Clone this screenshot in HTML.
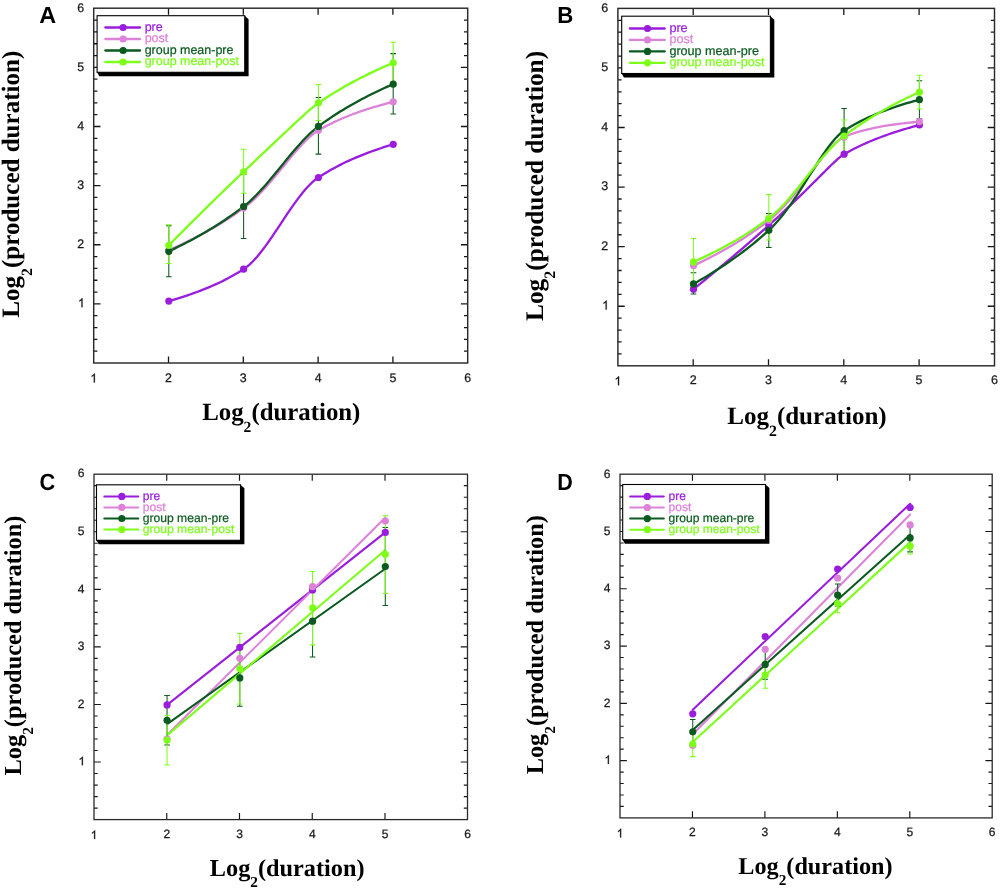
<!DOCTYPE html>
<html><head><meta charset="utf-8"><title>Figure</title>
<style>
html,body{margin:0;padding:0;background:#fff;}
body{width:1000px;height:890px;overflow:hidden;font-family:"Liberation Sans",sans-serif;}
svg{display:block;will-change:transform;text-rendering:geometricPrecision;}
</style></head><body>
<svg width="1000" height="890" viewBox="0 0 1000 890">
<rect width="1000" height="890" fill="#fff"/>
<g>
<path d="M93.7 351.18h3.7M467.7 351.18h-3.7M93.7 339.35h3.7M467.7 339.35h-3.7M93.7 327.53h3.7M467.7 327.53h-3.7M93.7 315.7h3.7M467.7 315.7h-3.7M93.7 303.88h6.8M467.7 303.88h-6.8M93.7 292.06h3.7M467.7 292.06h-3.7M93.7 280.23h3.7M467.7 280.23h-3.7M93.7 268.41h3.7M467.7 268.41h-3.7M93.7 256.58h3.7M467.7 256.58h-3.7M93.7 244.76h6.8M467.7 244.76h-6.8M93.7 232.94h3.7M467.7 232.94h-3.7M93.7 221.11h3.7M467.7 221.11h-3.7M93.7 209.29h3.7M467.7 209.29h-3.7M93.7 197.46h3.7M467.7 197.46h-3.7M93.7 185.64h6.8M467.7 185.64h-6.8M93.7 173.82h3.7M467.7 173.82h-3.7M93.7 161.99h3.7M467.7 161.99h-3.7M93.7 150.17h3.7M467.7 150.17h-3.7M93.7 138.34h3.7M467.7 138.34h-3.7M93.7 126.52h6.8M467.7 126.52h-6.8M93.7 114.7h3.7M467.7 114.7h-3.7M93.7 102.87h3.7M467.7 102.87h-3.7M93.7 91.05h3.7M467.7 91.05h-3.7M93.7 79.22h3.7M467.7 79.22h-3.7M93.7 67.4h6.8M467.7 67.4h-6.8M93.7 55.58h3.7M467.7 55.58h-3.7M93.7 43.75h3.7M467.7 43.75h-3.7M93.7 31.93h3.7M467.7 31.93h-3.7M93.7 20.1h3.7M467.7 20.1h-3.7M168.5 363v-6.6M168.5 8.2v6.6M243.3 363v-6.6M243.3 8.2v6.6M318.1 363v-6.6M318.1 8.2v6.6M392.9 363v-6.6M392.9 8.2v6.6" stroke="#161616" stroke-width="1.3" fill="none"/>
<rect x="93.7" y="8.2" width="374" height="354.8" fill="none" stroke="#2a2a2a" stroke-width="1.45"/>
<g font-family="Liberation Sans, sans-serif" font-size="12.4" fill="#1a1a1a" stroke="#1a1a1a" stroke-width="0.25">
<path aria-label="1" transform="translate(77.91 307.18) scale(0.00605 -0.00605)" d="M763 0H583V1147Q518 1085 412.5 1023T223 930V1104Q373 1174.5 485 1274.5T644 1469H763Z" fill="#1a1a1a" stroke="#1a1a1a" stroke-width="42"/>
<text x="84.1" y="248.06" text-anchor="end">2</text>
<text x="84.1" y="188.94" text-anchor="end">3</text>
<text x="84.1" y="129.82" text-anchor="end">4</text>
<text x="84.1" y="70.7" text-anchor="end">5</text>
<text x="84.1" y="11.58" text-anchor="end">6</text>
<path aria-label="1" transform="translate(90.25 382.5) scale(0.00605 -0.00605)" d="M763 0H583V1147Q518 1085 412.5 1023T223 930V1104Q373 1174.5 485 1274.5T644 1469H763Z" fill="#1a1a1a" stroke="#1a1a1a" stroke-width="42"/>
<text x="168.5" y="381.8" text-anchor="middle">2</text>
<text x="243.3" y="381.8" text-anchor="middle">3</text>
<text x="318.1" y="381.8" text-anchor="middle">4</text>
<text x="392.9" y="381.8" text-anchor="middle">5</text>
<text x="467.7" y="381.8" text-anchor="middle">6</text>
</g>
<path d="M168.8 301.1L171.92 300.21L175.03 299.29L178.15 298.35L181.27 297.38L184.38 296.38L187.5 295.34L190.62 294.28L193.73 293.18L196.85 292.04L199.97 290.87L203.08 289.66L206.2 288.41L209.32 287.11L212.43 285.77L215.55 284.38L218.67 282.94L221.78 281.44L224.9 279.89L228.02 278.28L231.13 276.6L234.25 274.86L237.37 273.04L240.48 271.15L243.6 269.18L246.72 266.94L249.83 264.29L252.95 261.26L256.07 257.89L259.18 254.22L262.3 250.29L265.42 246.13L268.53 241.79L271.65 237.31L274.77 232.71L277.88 228.04L281 223.33L284.12 218.62L287.23 213.96L290.35 209.37L293.47 204.89L296.58 200.56L299.7 196.42L302.82 192.5L305.93 188.84L309.05 185.47L312.17 182.43L315.28 179.75L318.4 177.48L321.52 175.46L324.63 173.52L327.75 171.66L330.87 169.86L333.98 168.13L337.1 166.47L340.22 164.86L343.33 163.31L346.45 161.82L349.57 160.37L352.68 158.98L355.8 157.63L358.92 156.32L362.03 155.06L365.15 153.83L368.27 152.64L371.38 151.49L374.5 150.37L377.62 149.29L380.73 148.24L383.85 147.21L386.97 146.22L390.08 145.25L393.2 144.32" stroke="#9a1cdc" stroke-width="2.3" fill="none" stroke-linecap="round"/>
<path d="M168.8 250.08L171.92 248.73L175.03 247.34L178.15 245.93L181.27 244.49L184.38 243.03L187.5 241.53L190.62 240L193.73 238.44L196.85 236.84L199.97 235.22L203.08 233.55L206.2 231.85L209.32 230.11L212.43 228.34L215.55 226.52L218.67 224.66L221.78 222.76L224.9 220.81L228.02 218.82L231.13 216.78L234.25 214.69L237.37 212.55L240.48 210.36L243.6 208.11L246.72 205.72L249.83 203.14L252.95 200.36L256.07 197.4L259.18 194.29L262.3 191.02L265.42 187.62L268.53 184.1L271.65 180.49L274.77 176.79L277.88 173.03L281 169.23L284.12 165.42L287.23 161.61L290.35 157.83L293.47 154.11L296.58 150.47L299.7 146.95L302.82 143.59L305.93 140.41L309.05 137.45L312.17 134.76L315.28 132.38L318.4 130.36L321.52 128.58L324.63 126.87L327.75 125.23L330.87 123.66L333.98 122.15L337.1 120.71L340.22 119.32L343.33 117.98L346.45 116.69L349.57 115.45L352.68 114.25L355.8 113.1L358.92 111.98L362.03 110.91L365.15 109.87L368.27 108.86L371.38 107.89L374.5 106.94L377.62 106.03L380.73 105.15L383.85 104.29L386.97 103.46L390.08 102.65L393.2 101.87" stroke="#dc82d8" stroke-width="2.3" fill="none" stroke-linecap="round"/>
<path d="M168.8 251.32L171.92 249.85L175.03 248.35L178.15 246.83L181.27 245.27L184.38 243.69L187.5 242.07L190.62 240.42L193.73 238.74L196.85 237.03L199.97 235.28L203.08 233.5L206.2 231.68L209.32 229.82L212.43 227.92L215.55 225.99L218.67 224.01L221.78 221.99L224.9 219.92L228.02 217.81L231.13 215.65L234.25 213.44L237.37 211.18L240.48 208.87L243.6 206.51L246.72 204.01L249.83 201.29L252.95 198.38L256.07 195.29L259.18 192.04L262.3 188.65L265.42 185.15L268.53 181.53L271.65 177.84L274.77 174.08L277.88 170.28L281 166.46L284.12 162.63L287.23 158.82L290.35 155.04L293.47 151.33L296.58 147.69L299.7 144.16L302.82 140.76L305.93 137.5L309.05 134.41L312.17 131.52L315.28 128.84L318.4 126.4L321.52 124.12L324.63 121.9L327.75 119.73L330.87 117.62L333.98 115.56L337.1 113.55L340.22 111.58L343.33 109.66L346.45 107.79L349.57 105.96L352.68 104.17L355.8 102.42L358.92 100.71L362.03 99.04L365.15 97.4L368.27 95.8L371.38 94.23L374.5 92.7L377.62 91.2L380.73 89.73L383.85 88.28L386.97 86.87L390.08 85.49L393.2 84.13" stroke="#0b5a1f" stroke-width="2.3" fill="none" stroke-linecap="round"/>
<path d="M168.8 245.35L171.92 242.18L175.03 239.03L178.15 235.88L181.27 232.74L184.38 229.61L187.5 226.48L190.62 223.37L193.73 220.26L196.85 217.17L199.97 214.08L203.08 211L206.2 207.93L209.32 204.86L212.43 201.81L215.55 198.76L218.67 195.73L221.78 192.7L224.9 189.68L228.02 186.67L231.13 183.67L234.25 180.68L237.37 177.69L240.48 174.71L243.6 171.75L246.72 168.78L249.83 165.82L252.95 162.86L256.07 159.9L259.18 156.95L262.3 153.99L265.42 151.04L268.53 148.09L271.65 145.14L274.77 142.2L277.88 139.26L281 136.32L284.12 133.39L287.23 130.47L290.35 127.56L293.47 124.65L296.58 121.76L299.7 118.89L302.82 116.05L305.93 113.24L309.05 110.48L312.17 107.8L315.28 105.25L318.4 102.93L321.52 100.83L324.63 98.77L327.75 96.76L330.87 94.79L333.98 92.87L337.1 90.98L340.22 89.14L343.33 87.33L346.45 85.56L349.57 83.83L352.68 82.13L355.8 80.47L358.92 78.84L362.03 77.25L365.15 75.68L368.27 74.14L371.38 72.64L374.5 71.16L377.62 69.71L380.73 68.29L383.85 66.89L386.97 65.52L390.08 64.17L393.2 62.85" stroke="#7dff1a" stroke-width="2.3" fill="none" stroke-linecap="round"/>
<path d="M168.8 225.84V276.68M166 225.84h5.6M166 276.68h5.6M243.6 174.41V238.49M240.8 174.41h5.6M240.8 238.49h5.6M318.4 97.55V154.13M315.6 97.55h5.6M315.6 154.13h5.6M393.2 53.63V114.05M390.4 53.63h5.6M390.4 114.05h5.6" stroke="#0b5a1f" stroke-width="1.05" fill="none"/>
<path d="M168.8 224.66V263.44M166 224.66h5.6M166 263.44h5.6M243.6 149.28V193.33M240.8 149.28h5.6M240.8 193.33h5.6M318.4 84.54V120.43M315.6 84.54h5.6M315.6 120.43h5.6M393.2 42.33V83.36M390.4 42.33h5.6M390.4 83.36h5.6" stroke="#7dff1a" stroke-width="1.05" fill="none"/>
<circle cx="168.8" cy="301.1" r="3.6" fill="#9a1cdc"/>
<circle cx="243.6" cy="269.18" r="3.6" fill="#9a1cdc"/>
<circle cx="318.4" cy="177.48" r="3.6" fill="#9a1cdc"/>
<circle cx="393.2" cy="144.32" r="3.6" fill="#9a1cdc"/>
<circle cx="168.8" cy="250.08" r="3.6" fill="#dc82d8"/>
<circle cx="243.6" cy="208.11" r="3.6" fill="#dc82d8"/>
<circle cx="318.4" cy="130.36" r="3.6" fill="#dc82d8"/>
<circle cx="393.2" cy="101.87" r="3.6" fill="#dc82d8"/>
<circle cx="168.8" cy="251.32" r="3.6" fill="#0b5a1f"/>
<circle cx="243.6" cy="206.51" r="3.6" fill="#0b5a1f"/>
<circle cx="318.4" cy="126.4" r="3.6" fill="#0b5a1f"/>
<circle cx="393.2" cy="84.13" r="3.6" fill="#0b5a1f"/>
<circle cx="168.8" cy="245.35" r="3.6" fill="#7dff1a"/>
<circle cx="243.6" cy="171.75" r="3.6" fill="#7dff1a"/>
<circle cx="318.4" cy="102.93" r="3.6" fill="#7dff1a"/>
<circle cx="393.2" cy="62.85" r="3.6" fill="#7dff1a"/>
<path d="M244.7 15.7L248.6 19.21V76.2H99.3L96.8 71.8H244.7Z" fill="#000"/>
<rect x="97.1" y="15.7" width="147.6" height="56.6" fill="#fff" stroke="#000" stroke-width="1.1"/>
<g font-family="Liberation Sans, sans-serif" font-size="12.47">
<path d="M105.35 27.5h34.7" stroke="#9a1cdc" stroke-width="2.3" stroke-linecap="round"/>
<circle cx="123.1" cy="27.5" r="3.6" fill="#9a1cdc"/>
<text x="144.7" y="30.6" fill="#9a1cdc" stroke="#9a1cdc" stroke-width="0.22">pre</text>
<path d="M105.35 39h34.7" stroke="#dc82d8" stroke-width="2.3" stroke-linecap="round"/>
<circle cx="123.1" cy="39" r="3.6" fill="#dc82d8"/>
<text x="144.7" y="42.1" fill="#dc82d8" stroke="#dc82d8" stroke-width="0.22">post</text>
<path d="M105.35 50.5h34.7" stroke="#0b5a1f" stroke-width="2.3" stroke-linecap="round"/>
<circle cx="123.1" cy="50.5" r="3.6" fill="#0b5a1f"/>
<text x="144.7" y="53.6" fill="#0b5a1f" stroke="#0b5a1f" stroke-width="0.22">group mean-pre</text>
<path d="M105.35 62h34.7" stroke="#7dff1a" stroke-width="2.3" stroke-linecap="round"/>
<circle cx="123.1" cy="62" r="3.6" fill="#7dff1a"/>
<text x="144.7" y="65.1" fill="#7dff1a" stroke="#7dff1a" stroke-width="0.22">group mean-post</text>
</g>
<text transform="translate(39.3 23.2) scale(1 1)" font-family="Liberation Sans, sans-serif" font-weight="bold" font-size="23.4" fill="#000">A</text>
<text x="281.3" y="420" text-anchor="middle" font-family="Liberation Serif, serif" font-weight="bold" font-size="24.83" fill="#000">Log<tspan font-size="15.59" dy="12.17">2</tspan><tspan dy="-12.17">(duration)</tspan></text>
<text transform="translate(19.3 184.2) rotate(-90)" text-anchor="middle" font-family="Liberation Serif, serif" font-weight="bold" font-size="25.05" fill="#000">Log<tspan font-size="15.73" dy="12.27">2</tspan><tspan dy="-12.27">(produced duration)</tspan></text>
</g>
<g>
<path d="M617.9 353.89h3.7M994.5 353.89h-3.7M617.9 341.97h3.7M994.5 341.97h-3.7M617.9 330.06h3.7M994.5 330.06h-3.7M617.9 318.14h3.7M994.5 318.14h-3.7M617.9 306.23h6.8M994.5 306.23h-6.8M617.9 294.32h3.7M994.5 294.32h-3.7M617.9 282.4h3.7M994.5 282.4h-3.7M617.9 270.49h3.7M994.5 270.49h-3.7M617.9 258.57h3.7M994.5 258.57h-3.7M617.9 246.66h6.8M994.5 246.66h-6.8M617.9 234.75h3.7M994.5 234.75h-3.7M617.9 222.83h3.7M994.5 222.83h-3.7M617.9 210.92h3.7M994.5 210.92h-3.7M617.9 199h3.7M994.5 199h-3.7M617.9 187.09h6.8M994.5 187.09h-6.8M617.9 175.18h3.7M994.5 175.18h-3.7M617.9 163.26h3.7M994.5 163.26h-3.7M617.9 151.35h3.7M994.5 151.35h-3.7M617.9 139.43h3.7M994.5 139.43h-3.7M617.9 127.52h6.8M994.5 127.52h-6.8M617.9 115.61h3.7M994.5 115.61h-3.7M617.9 103.69h3.7M994.5 103.69h-3.7M617.9 91.78h3.7M994.5 91.78h-3.7M617.9 79.86h3.7M994.5 79.86h-3.7M617.9 67.95h6.8M994.5 67.95h-6.8M617.9 56.04h3.7M994.5 56.04h-3.7M617.9 44.12h3.7M994.5 44.12h-3.7M617.9 32.21h3.7M994.5 32.21h-3.7M617.9 20.29h3.7M994.5 20.29h-3.7M693.2 365.8v-6.6M693.2 8.4v6.6M768.5 365.8v-6.6M768.5 8.4v6.6M843.8 365.8v-6.6M843.8 8.4v6.6M919.1 365.8v-6.6M919.1 8.4v6.6" stroke="#161616" stroke-width="1.3" fill="none"/>
<rect x="617.9" y="8.4" width="376.6" height="357.4" fill="none" stroke="#2a2a2a" stroke-width="1.45"/>
<g font-family="Liberation Sans, sans-serif" font-size="12.5" fill="#1a1a1a" stroke="#1a1a1a" stroke-width="0.25">
<path aria-label="1" transform="translate(602.05 309.53) scale(0.00610 -0.00610)" d="M763 0H583V1147Q518 1085 412.5 1023T223 930V1104Q373 1174.5 485 1274.5T644 1469H763Z" fill="#1a1a1a" stroke="#1a1a1a" stroke-width="42"/>
<text x="608.3" y="249.96" text-anchor="end">2</text>
<text x="608.3" y="190.39" text-anchor="end">3</text>
<text x="608.3" y="130.82" text-anchor="end">4</text>
<text x="608.3" y="71.25" text-anchor="end">5</text>
<text x="608.3" y="11.68" text-anchor="end">6</text>
<path aria-label="1" transform="translate(614.42 385.3) scale(0.00610 -0.00610)" d="M763 0H583V1147Q518 1085 412.5 1023T223 930V1104Q373 1174.5 485 1274.5T644 1469H763Z" fill="#1a1a1a" stroke="#1a1a1a" stroke-width="42"/>
<text x="693.2" y="384.2" text-anchor="middle">2</text>
<text x="768.5" y="384.2" text-anchor="middle">3</text>
<text x="843.8" y="384.2" text-anchor="middle">4</text>
<text x="919.1" y="384.2" text-anchor="middle">5</text>
<text x="994.5" y="384.2" text-anchor="middle">6</text>
</g>
<path d="M693.5 289.19L696.64 286.66L699.77 284.11L702.91 281.55L706.05 278.99L709.19 276.41L712.32 273.82L715.46 271.22L718.6 268.61L721.74 265.99L724.87 263.35L728.01 260.71L731.15 258.05L734.29 255.39L737.42 252.71L740.56 250.02L743.7 247.31L746.84 244.6L749.97 241.88L753.11 239.14L756.25 236.39L759.39 233.63L762.52 230.86L765.66 228.07L768.8 225.27L771.94 222.46L775.07 219.61L778.21 216.74L781.35 213.84L784.49 210.91L787.62 207.96L790.76 204.98L793.9 201.98L797.04 198.95L800.17 195.9L803.31 192.83L806.45 189.74L809.59 186.63L812.72 183.51L815.86 180.38L819 177.24L822.14 174.1L825.27 170.97L828.41 167.86L831.55 164.8L834.69 161.82L837.82 158.97L840.96 156.37L844.1 154.21L847.24 152.44L850.37 150.73L853.51 149.1L856.65 147.52L859.79 146L862.92 144.54L866.06 143.13L869.2 141.77L872.34 140.45L875.47 139.18L878.61 137.95L881.75 136.76L884.89 135.61L888.02 134.5L891.16 133.42L894.3 132.37L897.44 131.35L900.57 130.37L903.71 129.41L906.85 128.48L909.99 127.58L913.12 126.7L916.26 125.85L919.4 125.02" stroke="#9a1cdc" stroke-width="2.3" fill="none" stroke-linecap="round"/>
<path d="M693.5 265.6L696.64 264.14L699.77 262.64L702.91 261.11L706.05 259.56L709.19 257.97L712.32 256.35L715.46 254.7L718.6 253.02L721.74 251.3L724.87 249.54L728.01 247.75L731.15 245.92L734.29 244.05L737.42 242.14L740.56 240.19L743.7 238.19L746.84 236.15L749.97 234.06L753.11 231.92L756.25 229.73L759.39 227.49L762.52 225.2L765.66 222.85L768.8 220.45L771.94 217.91L775.07 215.16L778.21 212.21L781.35 209.07L784.49 205.76L787.62 202.27L790.76 198.64L793.9 194.87L797.04 190.98L800.17 186.98L803.31 182.9L806.45 178.75L809.59 174.57L812.72 170.37L815.86 166.2L819 162.08L822.14 158.05L825.27 154.15L828.41 150.45L831.55 146.99L834.69 143.83L837.82 141.07L840.96 138.77L844.1 137.05L847.24 135.72L850.37 134.51L853.51 133.4L856.65 132.39L859.79 131.45L862.92 130.58L866.06 129.78L869.2 129.03L872.34 128.33L875.47 127.68L878.61 127.07L881.75 126.49L884.89 125.95L888.02 125.45L891.16 124.97L894.3 124.51L897.44 124.09L900.57 123.68L903.71 123.29L906.85 122.93L909.99 122.58L913.12 122.24L916.26 121.93L919.4 121.62" stroke="#dc82d8" stroke-width="2.3" fill="none" stroke-linecap="round"/>
<path d="M693.5 283.89L696.64 282.13L699.77 280.33L702.91 278.51L706.05 276.64L709.19 274.75L712.32 272.81L715.46 270.84L718.6 268.83L721.74 266.78L724.87 264.69L728.01 262.56L731.15 260.38L734.29 258.16L737.42 255.89L740.56 253.58L743.7 251.22L746.84 248.8L749.97 246.33L753.11 243.81L756.25 241.24L759.39 238.6L762.52 235.91L765.66 233.16L768.8 230.34L771.94 227.35L775.07 224.09L778.21 220.57L781.35 216.82L784.49 212.84L787.62 208.66L790.76 204.3L793.9 199.77L797.04 195.09L800.17 190.3L803.31 185.42L806.45 180.48L809.59 175.5L812.72 170.52L815.86 165.58L819 160.72L822.14 155.97L825.27 151.39L828.41 147.02L831.55 142.93L834.69 139.17L837.82 135.81L840.96 132.93L844.1 130.62L847.24 128.66L850.37 126.78L853.51 124.99L856.65 123.28L859.79 121.63L862.92 120.05L866.06 118.54L869.2 117.08L872.34 115.69L875.47 114.34L878.61 113.04L881.75 111.79L884.89 110.59L888.02 109.42L891.16 108.3L894.3 107.22L897.44 106.17L900.57 105.15L903.71 104.17L906.85 103.22L909.99 102.3L913.12 101.41L916.26 100.54L919.4 99.7" stroke="#0b5a1f" stroke-width="2.3" fill="none" stroke-linecap="round"/>
<path d="M693.5 261.91L696.64 260.51L699.77 259.09L702.91 257.63L706.05 256.15L709.19 254.63L712.32 253.08L715.46 251.5L718.6 249.89L721.74 248.24L724.87 246.56L728.01 244.83L731.15 243.07L734.29 241.27L737.42 239.43L740.56 237.55L743.7 235.62L746.84 233.65L749.97 231.63L753.11 229.56L756.25 227.44L759.39 225.27L762.52 223.05L765.66 220.77L768.8 218.42L771.94 215.92L775.07 213.18L778.21 210.21L781.35 207.04L784.49 203.7L787.62 200.2L790.76 196.57L793.9 192.83L797.04 189L800.17 185.1L803.31 181.16L806.45 177.2L809.59 173.24L812.72 169.3L815.86 165.41L819 161.58L822.14 157.84L825.27 154.22L828.41 150.72L831.55 147.38L834.69 144.21L837.82 141.24L840.96 138.49L844.1 135.98L847.24 133.63L850.37 131.33L853.51 129.09L856.65 126.91L859.79 124.77L862.92 122.69L866.06 120.66L869.2 118.67L872.34 116.73L875.47 114.83L878.61 112.98L881.75 111.16L884.89 109.38L888.02 107.65L891.16 105.95L894.3 104.28L897.44 102.65L900.57 101.06L903.71 99.5L906.85 97.96L909.99 96.46L913.12 94.99L916.26 93.55L919.4 92.14" stroke="#7dff1a" stroke-width="2.3" fill="none" stroke-linecap="round"/>
<path d="M693.5 272.81V293.9M690.7 272.81h5.6M690.7 293.9h5.6M768.8 213.48V247.49M766 213.48h5.6M766 247.49h5.6M844.1 108.52V152.72M841.3 108.52h5.6M841.3 152.72h5.6M919.4 80.7V118.7M916.6 80.7h5.6M916.6 118.7h5.6" stroke="#0b5a1f" stroke-width="1.05" fill="none"/>
<path d="M693.5 238.44V285.38M690.7 238.44h5.6M690.7 285.38h5.6M768.8 194.6V239.93M766 194.6h5.6M766 239.93h5.6M844.1 119.95V152.54M841.3 119.95h5.6M841.3 152.54h5.6M919.4 75.28V109.05M916.6 75.28h5.6M916.6 109.05h5.6" stroke="#7dff1a" stroke-width="1.05" fill="none"/>
<circle cx="693.5" cy="289.19" r="3.6" fill="#9a1cdc"/>
<circle cx="768.8" cy="225.27" r="3.6" fill="#9a1cdc"/>
<circle cx="844.1" cy="154.21" r="3.6" fill="#9a1cdc"/>
<circle cx="919.4" cy="125.02" r="3.6" fill="#9a1cdc"/>
<circle cx="693.5" cy="265.6" r="3.6" fill="#dc82d8"/>
<circle cx="768.8" cy="220.45" r="3.6" fill="#dc82d8"/>
<circle cx="844.1" cy="137.05" r="3.6" fill="#dc82d8"/>
<circle cx="919.4" cy="121.62" r="3.6" fill="#dc82d8"/>
<circle cx="693.5" cy="283.89" r="3.6" fill="#0b5a1f"/>
<circle cx="768.8" cy="230.34" r="3.6" fill="#0b5a1f"/>
<circle cx="844.1" cy="130.62" r="3.6" fill="#0b5a1f"/>
<circle cx="919.4" cy="99.7" r="3.6" fill="#0b5a1f"/>
<circle cx="693.5" cy="261.91" r="3.6" fill="#7dff1a"/>
<circle cx="768.8" cy="218.42" r="3.6" fill="#7dff1a"/>
<circle cx="844.1" cy="135.98" r="3.6" fill="#7dff1a"/>
<circle cx="919.4" cy="92.14" r="3.6" fill="#7dff1a"/>
<path d="M770.4 16.2L774.3 19.71V77.4H623.9L621.4 73H770.4Z" fill="#000"/>
<rect x="621.7" y="16.2" width="148.7" height="57.3" fill="#fff" stroke="#000" stroke-width="1.1"/>
<g font-family="Liberation Sans, sans-serif" font-size="12.6">
<path d="M629.85 28.5h34.9" stroke="#9a1cdc" stroke-width="2.3" stroke-linecap="round"/>
<circle cx="647.5" cy="28.5" r="3.6" fill="#9a1cdc"/>
<text x="669.4" y="31.6" fill="#9a1cdc" stroke="#9a1cdc" stroke-width="0.22">pre</text>
<path d="M629.85 39.95h34.9" stroke="#dc82d8" stroke-width="2.3" stroke-linecap="round"/>
<circle cx="647.5" cy="39.95" r="3.6" fill="#dc82d8"/>
<text x="669.4" y="43.05" fill="#dc82d8" stroke="#dc82d8" stroke-width="0.22">post</text>
<path d="M629.85 51.4h34.9" stroke="#0b5a1f" stroke-width="2.3" stroke-linecap="round"/>
<circle cx="647.5" cy="51.4" r="3.6" fill="#0b5a1f"/>
<text x="669.4" y="54.5" fill="#0b5a1f" stroke="#0b5a1f" stroke-width="0.22">group mean-pre</text>
<path d="M629.85 62.85h34.9" stroke="#7dff1a" stroke-width="2.3" stroke-linecap="round"/>
<circle cx="647.5" cy="62.85" r="3.6" fill="#7dff1a"/>
<text x="669.4" y="65.95" fill="#7dff1a" stroke="#7dff1a" stroke-width="0.22">group mean-post</text>
</g>
<text transform="translate(557.3 22.9) scale(0.95 1)" font-family="Liberation Sans, sans-serif" font-weight="bold" font-size="23.4" fill="#000">B</text>
<text x="807" y="423.8" text-anchor="middle" font-family="Liberation Serif, serif" font-weight="bold" font-size="25.03" fill="#000">Log<tspan font-size="15.72" dy="12.26">2</tspan><tspan dy="-12.26">(duration)</tspan></text>
<text transform="translate(543 185.9) rotate(-90)" text-anchor="middle" font-family="Liberation Serif, serif" font-weight="bold" font-size="25.35" fill="#000">Log<tspan font-size="15.92" dy="12.42">2</tspan><tspan dy="-12.42">(produced duration)</tspan></text>
</g>
<g>
<path d="M94 808.09h3.7M467.5 808.09h-3.7M94 796.57h3.7M467.5 796.57h-3.7M94 785.06h3.7M467.5 785.06h-3.7M94 773.54h3.7M467.5 773.54h-3.7M94 762.03h6.8M467.5 762.03h-6.8M94 750.52h3.7M467.5 750.52h-3.7M94 739h3.7M467.5 739h-3.7M94 727.49h3.7M467.5 727.49h-3.7M94 715.97h3.7M467.5 715.97h-3.7M94 704.46h6.8M467.5 704.46h-6.8M94 692.95h3.7M467.5 692.95h-3.7M94 681.43h3.7M467.5 681.43h-3.7M94 669.92h3.7M467.5 669.92h-3.7M94 658.4h3.7M467.5 658.4h-3.7M94 646.89h6.8M467.5 646.89h-6.8M94 635.38h3.7M467.5 635.38h-3.7M94 623.86h3.7M467.5 623.86h-3.7M94 612.35h3.7M467.5 612.35h-3.7M94 600.83h3.7M467.5 600.83h-3.7M94 589.32h6.8M467.5 589.32h-6.8M94 577.81h3.7M467.5 577.81h-3.7M94 566.29h3.7M467.5 566.29h-3.7M94 554.78h3.7M467.5 554.78h-3.7M94 543.26h3.7M467.5 543.26h-3.7M94 531.75h6.8M467.5 531.75h-6.8M94 520.24h3.7M467.5 520.24h-3.7M94 508.72h3.7M467.5 508.72h-3.7M94 497.21h3.7M467.5 497.21h-3.7M94 485.69h3.7M467.5 485.69h-3.7M166.75 819.6v-6.6M166.75 474.2v6.6M239.5 819.6v-6.6M239.5 474.2v6.6M312.25 819.6v-6.6M312.25 474.2v6.6M385 819.6v-6.6M385 474.2v6.6" stroke="#161616" stroke-width="1.15" fill="none"/>
<rect x="94" y="474.2" width="373.5" height="345.4" fill="none" stroke="#2a2a2a" stroke-width="1.3"/>
<g font-family="Liberation Sans, sans-serif" font-size="12.05" fill="#1a1a1a" stroke="#1a1a1a" stroke-width="0.25">
<path aria-label="1" transform="translate(78.4 765.33) scale(0.00588 -0.00588)" d="M763 0H583V1147Q518 1085 412.5 1023T223 930V1104Q373 1174.5 485 1274.5T644 1469H763Z" fill="#1a1a1a" stroke="#1a1a1a" stroke-width="42"/>
<text x="84.4" y="707.76" text-anchor="end">2</text>
<text x="84.4" y="650.19" text-anchor="end">3</text>
<text x="84.4" y="592.62" text-anchor="end">4</text>
<text x="84.4" y="535.05" text-anchor="end">5</text>
<text x="84.4" y="477.48" text-anchor="end">6</text>
<path aria-label="1" transform="translate(90.65 839.1) scale(0.00588 -0.00588)" d="M763 0H583V1147Q518 1085 412.5 1023T223 930V1104Q373 1174.5 485 1274.5T644 1469H763Z" fill="#1a1a1a" stroke="#1a1a1a" stroke-width="42"/>
<text x="166.75" y="838.3" text-anchor="middle">2</text>
<text x="239.5" y="838.3" text-anchor="middle">3</text>
<text x="312.25" y="838.3" text-anchor="middle">4</text>
<text x="385" y="838.3" text-anchor="middle">5</text>
<text x="467.5" y="838.3" text-anchor="middle">6</text>
</g>
<path d="M167.05 704.9L385.3 532.38" stroke="#9a1cdc" stroke-width="2.05" fill="none" stroke-linecap="round"/>
<path d="M167.05 735.08L385.3 517.43" stroke="#dc82d8" stroke-width="2.05" fill="none" stroke-linecap="round"/>
<path d="M167.05 724.18L385.3 568.76" stroke="#0b5a1f" stroke-width="2.05" fill="none" stroke-linecap="round"/>
<path d="M167.05 735.4L385.3 550" stroke="#7dff1a" stroke-width="2.05" fill="none" stroke-linecap="round"/>
<path d="M167.05 695.54V745.05M164.25 695.54h5.6M164.25 745.05h5.6M239.8 649.54V706.3M237 649.54h5.6M237 706.3h5.6M312.55 585.35V656.96M309.75 585.35h5.6M309.75 656.96h5.6M385.3 527.55V605.5M382.5 527.55h5.6M382.5 605.5h5.6" stroke="#0b5a1f" stroke-width="1.05" fill="none"/>
<path d="M167.05 715.28V764.91M164.25 715.28h5.6M164.25 764.91h5.6M239.8 633.48V703.94M237 633.48h5.6M237 703.94h5.6M312.55 571.42V644.88M309.75 571.42h5.6M309.75 644.88h5.6M385.3 515.8V593.52M382.5 515.8h5.6M382.5 593.52h5.6" stroke="#7dff1a" stroke-width="1.05" fill="none"/>
<circle cx="167.05" cy="704.92" r="3.6" fill="#9a1cdc"/>
<circle cx="239.8" cy="647.35" r="3.6" fill="#9a1cdc"/>
<circle cx="312.55" cy="589.9" r="3.6" fill="#9a1cdc"/>
<circle cx="385.3" cy="532.38" r="3.6" fill="#9a1cdc"/>
<circle cx="167.05" cy="739" r="3.6" fill="#dc82d8"/>
<circle cx="239.8" cy="658.29" r="3.6" fill="#dc82d8"/>
<circle cx="312.55" cy="586.67" r="3.6" fill="#dc82d8"/>
<circle cx="385.3" cy="521.04" r="3.6" fill="#dc82d8"/>
<circle cx="167.05" cy="720.29" r="3.6" fill="#0b5a1f"/>
<circle cx="239.8" cy="677.92" r="3.6" fill="#0b5a1f"/>
<circle cx="312.55" cy="621.16" r="3.6" fill="#0b5a1f"/>
<circle cx="385.3" cy="566.52" r="3.6" fill="#0b5a1f"/>
<circle cx="167.05" cy="740.1" r="3.6" fill="#7dff1a"/>
<circle cx="239.8" cy="668.54" r="3.6" fill="#7dff1a"/>
<circle cx="312.55" cy="607.86" r="3.6" fill="#7dff1a"/>
<circle cx="385.3" cy="554.32" r="3.6" fill="#7dff1a"/>
<path d="M240.5 484.8L244.4 488.31V544.2H98.7L96.2 539.8H240.5Z" fill="#000"/>
<rect x="96.5" y="484.8" width="144" height="55.5" fill="#fff" stroke="#000" stroke-width="1.1"/>
<g font-family="Liberation Sans, sans-serif" font-size="12.13">
<path d="M104.3 496.4h34" stroke="#9a1cdc" stroke-width="2" stroke-linecap="round"/>
<circle cx="121.8" cy="496.4" r="3.6" fill="#9a1cdc"/>
<text x="142.7" y="499.5" fill="#9a1cdc" stroke="#9a1cdc" stroke-width="0.22">pre</text>
<path d="M104.3 507.45h34" stroke="#dc82d8" stroke-width="2" stroke-linecap="round"/>
<circle cx="121.8" cy="507.45" r="3.6" fill="#dc82d8"/>
<text x="142.7" y="510.55" fill="#dc82d8" stroke="#dc82d8" stroke-width="0.22">post</text>
<path d="M104.3 518.5h34" stroke="#0b5a1f" stroke-width="2" stroke-linecap="round"/>
<circle cx="121.8" cy="518.5" r="3.6" fill="#0b5a1f"/>
<text x="142.7" y="521.6" fill="#0b5a1f" stroke="#0b5a1f" stroke-width="0.22">group mean-pre</text>
<path d="M104.3 529.55h34" stroke="#7dff1a" stroke-width="2" stroke-linecap="round"/>
<circle cx="121.8" cy="529.55" r="3.6" fill="#7dff1a"/>
<text x="142.7" y="532.65" fill="#7dff1a" stroke="#7dff1a" stroke-width="0.22">group mean-post</text>
</g>
<text transform="translate(39.6 489.8) scale(0.93 1)" font-family="Liberation Sans, sans-serif" font-weight="bold" font-size="23.4" fill="#000">C</text>
<text x="287.2" y="875.5" text-anchor="middle" font-family="Liberation Serif, serif" font-weight="bold" font-size="24.29" fill="#000">Log<tspan font-size="15.25" dy="11.9">2</tspan><tspan dy="-11.9">(duration)</tspan></text>
<text transform="translate(21.3 645.5) rotate(-90)" text-anchor="middle" font-family="Liberation Serif, serif" font-weight="bold" font-size="24.4" fill="#000">Log<tspan font-size="15.32" dy="11.96">2</tspan><tspan dy="-11.96">(produced duration)</tspan></text>
</g>
<g>
<path d="M620 806.44h3.7M992.2 806.44h-3.7M620 794.99h3.7M992.2 794.99h-3.7M620 783.53h3.7M992.2 783.53h-3.7M620 772.08h3.7M992.2 772.08h-3.7M620 760.62h6.8M992.2 760.62h-6.8M620 749.16h3.7M992.2 749.16h-3.7M620 737.71h3.7M992.2 737.71h-3.7M620 726.25h3.7M992.2 726.25h-3.7M620 714.8h3.7M992.2 714.8h-3.7M620 703.34h6.8M992.2 703.34h-6.8M620 691.88h3.7M992.2 691.88h-3.7M620 680.43h3.7M992.2 680.43h-3.7M620 668.97h3.7M992.2 668.97h-3.7M620 657.52h3.7M992.2 657.52h-3.7M620 646.06h6.8M992.2 646.06h-6.8M620 634.6h3.7M992.2 634.6h-3.7M620 623.15h3.7M992.2 623.15h-3.7M620 611.69h3.7M992.2 611.69h-3.7M620 600.24h3.7M992.2 600.24h-3.7M620 588.78h6.8M992.2 588.78h-6.8M620 577.32h3.7M992.2 577.32h-3.7M620 565.87h3.7M992.2 565.87h-3.7M620 554.41h3.7M992.2 554.41h-3.7M620 542.96h3.7M992.2 542.96h-3.7M620 531.5h6.8M992.2 531.5h-6.8M620 520.04h3.7M992.2 520.04h-3.7M620 508.59h3.7M992.2 508.59h-3.7M620 497.13h3.7M992.2 497.13h-3.7M620 485.68h3.7M992.2 485.68h-3.7M692.45 817.9v-6.6M692.45 474.2v6.6M764.9 817.9v-6.6M764.9 474.2v6.6M837.35 817.9v-6.6M837.35 474.2v6.6M909.8 817.9v-6.6M909.8 474.2v6.6" stroke="#161616" stroke-width="1.15" fill="none"/>
<rect x="620" y="474.2" width="372.2" height="343.7" fill="none" stroke="#2a2a2a" stroke-width="1.3"/>
<g font-family="Liberation Sans, sans-serif" font-size="12.05" fill="#1a1a1a" stroke="#1a1a1a" stroke-width="0.25">
<path aria-label="1" transform="translate(604.4 763.92) scale(0.00588 -0.00588)" d="M763 0H583V1147Q518 1085 412.5 1023T223 930V1104Q373 1174.5 485 1274.5T644 1469H763Z" fill="#1a1a1a" stroke="#1a1a1a" stroke-width="42"/>
<text x="610.4" y="706.64" text-anchor="end">2</text>
<text x="610.4" y="649.36" text-anchor="end">3</text>
<text x="610.4" y="592.08" text-anchor="end">4</text>
<text x="610.4" y="534.8" text-anchor="end">5</text>
<text x="610.4" y="477.52" text-anchor="end">6</text>
<path aria-label="1" transform="translate(616.65 837.4) scale(0.00588 -0.00588)" d="M763 0H583V1147Q518 1085 412.5 1023T223 930V1104Q373 1174.5 485 1274.5T644 1469H763Z" fill="#1a1a1a" stroke="#1a1a1a" stroke-width="42"/>
<text x="692.45" y="835.8" text-anchor="middle">2</text>
<text x="764.9" y="835.8" text-anchor="middle">3</text>
<text x="837.35" y="835.8" text-anchor="middle">4</text>
<text x="909.8" y="835.8" text-anchor="middle">5</text>
<text x="992.2" y="835.8" text-anchor="middle">6</text>
</g>
<path d="M692.75 709.7L910.1 503.74" stroke="#9a1cdc" stroke-width="2.05" fill="none" stroke-linecap="round"/>
<path d="M692.75 734.28L910.1 514.51" stroke="#dc82d8" stroke-width="2.05" fill="none" stroke-linecap="round"/>
<path d="M692.75 729.95L910.1 534.65" stroke="#0b5a1f" stroke-width="2.05" fill="none" stroke-linecap="round"/>
<path d="M692.75 741.89L910.1 542.38" stroke="#7dff1a" stroke-width="2.05" fill="none" stroke-linecap="round"/>
<path d="M692.75 719.44V744.18M689.95 719.44h5.6M689.95 744.18h5.6M765.2 649.5V679.28M762.4 649.5h5.6M762.4 679.28h5.6M837.65 583.91V606.25M834.85 583.91h5.6M834.85 606.25h5.6M910.1 523.88V551.89M907.3 523.88h5.6M907.3 551.89h5.6" stroke="#0b5a1f" stroke-width="1.05" fill="none"/>
<path d="M692.75 731.52V756.61M689.95 731.52h5.6M689.95 756.61h5.6M765.2 661.3V688.33M762.4 661.3h5.6M762.4 688.33h5.6M837.65 594.34V612.67M834.85 594.34h5.6M834.85 612.67h5.6M910.1 538.26V554.07M907.3 538.26h5.6M907.3 554.07h5.6" stroke="#7dff1a" stroke-width="1.05" fill="none"/>
<circle cx="692.75" cy="713.85" r="3.6" fill="#9a1cdc"/>
<circle cx="765.2" cy="636.49" r="3.6" fill="#9a1cdc"/>
<circle cx="837.65" cy="569.02" r="3.6" fill="#9a1cdc"/>
<circle cx="910.1" cy="507.5" r="3.6" fill="#9a1cdc"/>
<circle cx="692.75" cy="745.33" r="3.6" fill="#dc82d8"/>
<circle cx="765.2" cy="649.32" r="3.6" fill="#dc82d8"/>
<circle cx="837.65" cy="578.01" r="3.6" fill="#dc82d8"/>
<circle cx="910.1" cy="524.91" r="3.6" fill="#dc82d8"/>
<circle cx="692.75" cy="731.81" r="3.6" fill="#0b5a1f"/>
<circle cx="765.2" cy="664.39" r="3.6" fill="#0b5a1f"/>
<circle cx="837.65" cy="595.08" r="3.6" fill="#0b5a1f"/>
<circle cx="910.1" cy="537.92" r="3.6" fill="#0b5a1f"/>
<circle cx="692.75" cy="744.07" r="3.6" fill="#7dff1a"/>
<circle cx="765.2" cy="674.81" r="3.6" fill="#7dff1a"/>
<circle cx="837.65" cy="603.5" r="3.6" fill="#7dff1a"/>
<circle cx="910.1" cy="546.16" r="3.6" fill="#7dff1a"/>
<path d="M765.5 484.5L769.4 488.01V543.65H624.9L622.4 539.25H765.5Z" fill="#000"/>
<rect x="622.7" y="484.5" width="142.8" height="55.25" fill="#fff" stroke="#000" stroke-width="1.1"/>
<g font-family="Liberation Sans, sans-serif" font-size="12.05">
<path d="M630.1 496.4h33.7" stroke="#9a1cdc" stroke-width="2" stroke-linecap="round"/>
<circle cx="647.3" cy="496.4" r="3.6" fill="#9a1cdc"/>
<text x="668.55" y="499.5" fill="#9a1cdc" stroke="#9a1cdc" stroke-width="0.22">pre</text>
<path d="M630.1 507.5h33.7" stroke="#dc82d8" stroke-width="2" stroke-linecap="round"/>
<circle cx="647.3" cy="507.5" r="3.6" fill="#dc82d8"/>
<text x="668.55" y="510.6" fill="#dc82d8" stroke="#dc82d8" stroke-width="0.22">post</text>
<path d="M630.1 518.6h33.7" stroke="#0b5a1f" stroke-width="2" stroke-linecap="round"/>
<circle cx="647.3" cy="518.6" r="3.6" fill="#0b5a1f"/>
<text x="668.55" y="521.7" fill="#0b5a1f" stroke="#0b5a1f" stroke-width="0.22">group mean-pre</text>
<path d="M630.1 529.7h33.7" stroke="#7dff1a" stroke-width="2" stroke-linecap="round"/>
<circle cx="647.3" cy="529.7" r="3.6" fill="#7dff1a"/>
<text x="668.55" y="532.8" fill="#7dff1a" stroke="#7dff1a" stroke-width="0.22">group mean-post</text>
</g>
<text transform="translate(557.3 489.8) scale(0.92 1)" font-family="Liberation Sans, sans-serif" font-weight="bold" font-size="23.4" fill="#000">D</text>
<text x="815.5" y="873.6" text-anchor="middle" font-family="Liberation Serif, serif" font-weight="bold" font-size="24.22" fill="#000">Log<tspan font-size="15.21" dy="11.87">2</tspan><tspan dy="-11.87">(duration)</tspan></text>
<text transform="translate(542.8 644.75) rotate(-90)" text-anchor="middle" font-family="Liberation Serif, serif" font-weight="bold" font-size="24.3" fill="#000">Log<tspan font-size="15.26" dy="11.91">2</tspan><tspan dy="-11.91">(produced duration)</tspan></text>
</g>
</svg>
</body></html>
